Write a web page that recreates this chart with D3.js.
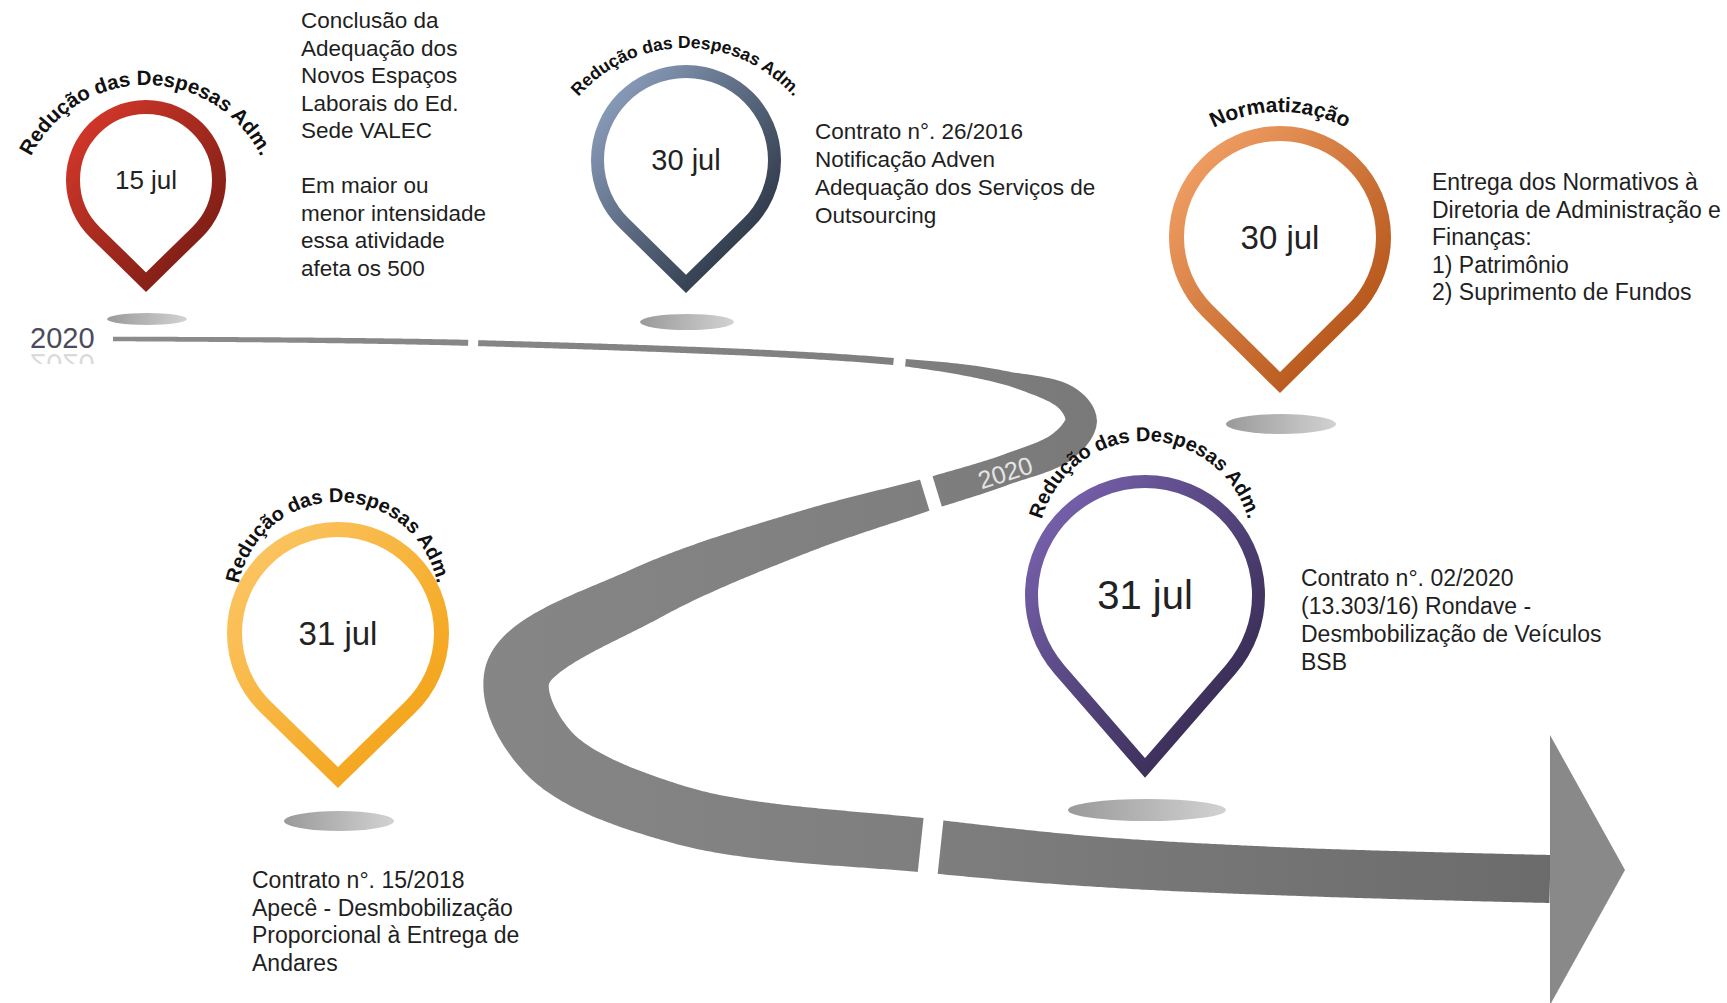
<!DOCTYPE html>
<html>
<head>
<meta charset="utf-8">
<script src="https://cdn.jsdelivr.net/npm/d3@7"></script>
<style>
  html, body { margin: 0; padding: 0; background: #fff; }
  svg { display: block; }
</style>
</head>
<body>
<div id="chart"></div>
<script>
// DATA
const milestoneDates = ["15 jul", "30 jul", "30 jul", "31 jul", "31 jul"];
const milestoneTitles = [
  "Redução das Despesas Adm.",
  "Redução das Despesas Adm.",
  "Normatização",
  "Redução das Despesas Adm.",
  "Redução das Despesas Adm."
];
const milestoneNotes = [
  ["Conclusão da", "Adequação dos", "Novos Espaços", "Laborais do Ed.", "Sede VALEC", "",
   "Em maior ou", "menor intensidade", "essa atividade", "afeta  os 500"],
  ["Contrato n°. 26/2016", "Notificação Adven", "Adequação dos Serviços de", "Outsourcing"],
  ["Entrega dos Normativos à", "Diretoria de Administração e", "Finanças:", "1) Patrimônio", "2) Suprimento de Fundos"],
  ["Contrato n°. 15/2018", "Apecê - Desmbobilização", "Proporcional à Entrega de", "Andares"],
  ["Contrato n°. 02/2020", "(13.303/16) Rondave -", "Desmbobilização de Veículos", "BSB"]
];
const yearLabel = "2020";

// LAYOUT
const W = 1727, H = 1003;
const pinLayout = [
  { cx: 146, cy: 180, r: 80, tip: 292, sw: 14, dateSize: 26, arcCy: 213, arcR: 128, arcSize: 20.5 },
  { cx: 686, cy: 160, r: 95, tip: 293, sw: 13, dateSize: 29, arcCy: 191, arcR: 143, arcSize: 17.5 },
  { cx: 1280, cy: 237, r: 111, tip: 393, sw: 15, dateSize: 33, arcCy: 257, arcR: 145, arcSize: 21 },
  { cx: 338, cy: 633, r: 111, tip: 788, sw: 15, dateSize: 33, arcCy: 603, arcR: 101, arcSize: 20 },
  { cx: 1145, cy: 595, r: 120, tip: 777, sw: 13, dateSize: 40, arcCy: 548, arcR: 107, arcSize: 20 }
];
const shadowLayout = [
  { cx: 147, cy: 319, rx: 40, ry: 6 },
  { cx: 687, cy: 322, rx: 47, ry: 8 },
  { cx: 1281, cy: 424, rx: 55, ry: 10 },
  { cx: 339, cy: 821, rx: 55, ry: 10 },
  { cx: 1147, cy: 810, rx: 79, ry: 11 }
];
const noteLayout = [
  { x: 301, y: 28, lh: 27.5, size: 22.5 },
  { x: 815, y: 139, lh: 28, size: 22.5 },
  { x: 1432, y: 190, lh: 27.5, size: 23 },
  { x: 252, y: 888, lh: 27.5, size: 23 },
  { x: 1301, y: 586, lh: 28, size: 23 }
];
const pinLight = ["#d9392b", "#93a7c6", "#f6a66c", "#fcc86a", "#7d66b6"];
const pinDark = ["#6f1a12", "#1b2431", "#a9470b", "#f29e0c", "#2a2140"];

// road centre line [x, y], its width and where the white cuts are
const roadPoints = [
  [113, 339], [474, 343], [898, 362], [1010, 379], [1068, 399], [1081, 421],
  [1063, 446], [1005, 470], [932, 493], [800, 533], [645, 594], [518, 673],
  [548, 752], [680, 815], [930, 846], [1100, 862], [1300, 872], [1550, 879]
];
const roadWidths = [4.5, 6, 7, 14, 26, 32, 32, 30, 32, 42, 56, 66, 62, 58, 54, 50, 48, 48];
const roadGaps = [1, 2, 8, 14];
const gapWidths = [10, 12, 13, 20];

// CHART SVG
const svg = d3.select("#chart").append("svg")
  .attr("width", W).attr("height", H)
  .attr("viewBox", `0 0 ${W} ${H}`);
const defs = svg.append("defs");

// GRADIENTS
pinLight.forEach((c, i) => {
  const g = defs.append("linearGradient").attr("id", `pinGrad${i}`)
    .attr("x1", 0).attr("y1", 0).attr("x2", 1).attr("y2", 1);
  g.append("stop").attr("offset", "0%").attr("stop-color", c);
  g.append("stop").attr("offset", "100%").attr("stop-color", pinDark[i]);
});
const shadowGrad = defs.append("linearGradient").attr("id", "shadowGrad");
shadowGrad.append("stop").attr("offset", "0%").attr("stop-color", "#9a9a9a");
shadowGrad.append("stop").attr("offset", "100%").attr("stop-color", "#d2d2d2");

const roadGrad = defs.append("linearGradient").attr("id", "roadGrad")
  .attr("gradientUnits", "userSpaceOnUse")
  .attr("x1", 100).attr("y1", 0).attr("x2", 1560).attr("y2", 0);
roadGrad.append("stop").attr("offset", "0%").attr("stop-color", "#8c8c8c");
roadGrad.append("stop").attr("offset", "55%").attr("stop-color", "#7f7f7f");
roadGrad.append("stop").attr("offset", "100%").attr("stop-color", "#6b6b6b");

// ROAD
const guide = svg.append("path")
  .attr("d", d3.line().curve(d3.curveCatmullRom.alpha(0.5))(roadPoints))
  .attr("fill", "none");
const total = guide.node().getTotalLength();
const N = 900;
const samples = d3.range(N + 1).map((i) => {
  const p = guide.node().getPointAtLength((total * i) / N);
  return [p.x, p.y, (total * i) / N];
});
const ctrlLen = roadPoints.map((p) => {
  let best = 0, bd = Infinity;
  samples.forEach((s) => {
    const d = (s[0] - p[0]) ** 2 + (s[1] - p[1]) ** 2;
    if (d < bd) { bd = d; best = s[2]; }
  });
  return best;
});
const widthScale = d3.scaleLinear().domain(ctrlLen).range(roadWidths);
const normalAt = (i) => {
  const a = samples[Math.max(0, i - 2)], b = samples[Math.min(N, i + 2)];
  const len = Math.hypot(b[0] - a[0], b[1] - a[1]) || 1;
  return [-(b[1] - a[1]) / len, (b[0] - a[0]) / len];
};
const leftSide = [], rightSide = [];
samples.forEach((s, i) => {
  const [nx, ny] = normalAt(i);
  const w = widthScale(s[2]) / 2;
  leftSide.push([s[0] + nx * w, s[1] + ny * w]);
  rightSide.push([s[0] - nx * w, s[1] - ny * w]);
});
svg.append("path")
  .attr("d", d3.line()(leftSide.concat(rightSide.reverse())) + "Z")
  .attr("fill", "url(#roadGrad)");

// white cuts across the road
roadGaps.forEach((g, k) => {
  const i = Math.round((ctrlLen[g] / total) * N);
  const s = samples[i];
  const [nx, ny] = normalAt(i);
  const w = widthScale(s[2]) / 2 + 4;
  svg.append("line")
    .attr("x1", s[0] - nx * w).attr("y1", s[1] - ny * w)
    .attr("x2", s[0] + nx * w).attr("y2", s[1] + ny * w)
    .attr("stroke", "#fff").attr("stroke-width", gapWidths[k]);
});

// ARROW HEAD
const last = roadPoints[roadPoints.length - 1];
svg.append("path")
  .attr("d", d3.line()([[last[0], 735], [1625, 870], [last[0], 1005]]) + "Z")
  .attr("fill", "#898989");

// YEAR LABELS
svg.append("text")
  .attr("x", 30).attr("y", 348)
  .attr("font-family", "Liberation Sans, Arial, sans-serif")
  .attr("font-size", 29).attr("fill", "#4b4b5c")
  .text(yearLabel);
defs.append("clipPath").attr("id", "reflClip")
  .append("rect").attr("x", 0).attr("y", 354).attr("width", 120).attr("height", 10);
svg.append("g").attr("clip-path", "url(#reflClip)")
  .append("text")
  .attr("transform", "translate(0, 702) scale(1,-1)")
  .attr("x", 30).attr("y", 348)
  .attr("font-family", "Liberation Sans, Arial, sans-serif")
  .attr("font-size", 29).attr("fill", "#4b4b5c").attr("opacity", 0.2)
  .text(yearLabel);
svg.append("text")
  .attr("transform", "translate(1008, 481) rotate(-18)")
  .attr("text-anchor", "middle")
  .attr("font-family", "Liberation Sans, Arial, sans-serif")
  .attr("font-size", 25).attr("fill", "#e4e4e4")
  .text(yearLabel);

// SHADOWS
svg.append("g").selectAll("ellipse")
  .data(shadowLayout)
  .join("ellipse")
  .attr("cx", (d) => d.cx).attr("cy", (d) => d.cy)
  .attr("rx", (d) => d.rx).attr("ry", (d) => d.ry)
  .attr("fill", "url(#shadowGrad)");

// PINS
const pinPath = (p) => {
  const rm = p.r - p.sw / 2;
  const d = p.tip - p.sw * 0.7 - p.cy;
  const a = Math.acos(rm / d);
  const tx = rm * Math.sin(a), ty = rm * Math.cos(a);
  const tipY = p.cy + d;
  return `M${p.cx},${tipY} L${p.cx + tx},${p.cy + ty} A${rm},${rm} 0 1 0 ${p.cx - tx},${p.cy + ty} Z`;
};
const pins = svg.append("g").selectAll("g")
  .data(milestoneDates)
  .join("g");
pins.append("path")
  .attr("d", (d, i) => pinPath(pinLayout[i]))
  .attr("fill", "#fff")
  .attr("stroke", (d, i) => `url(#pinGrad${i})`)
  .attr("stroke-width", (d, i) => pinLayout[i].sw)
  .attr("stroke-linejoin", "miter")
  .attr("stroke-miterlimit", 10);
pins.append("text")
  .attr("x", (d, i) => pinLayout[i].cx)
  .attr("y", (d, i) => pinLayout[i].cy)
  .attr("dy", "0.35em")
  .attr("text-anchor", "middle")
  .attr("font-family", "Liberation Sans, Arial, sans-serif")
  .attr("font-size", (d, i) => pinLayout[i].dateSize)
  .attr("fill", "#222")
  .text((d) => d);

// curved titles above the pins
milestoneTitles.forEach((t, i) => {
  const p = pinLayout[i];
  const a0 = (-115 * Math.PI) / 180, a1 = (115 * Math.PI) / 180;
  const x0 = p.cx + p.arcR * Math.sin(a0), y0 = p.arcCy - p.arcR * Math.cos(a0);
  const x1 = p.cx + p.arcR * Math.sin(a1), y1 = p.arcCy - p.arcR * Math.cos(a1);
  defs.append("path").attr("id", `arc${i}`)
    .attr("d", `M${x0},${y0} A${p.arcR},${p.arcR} 0 1 1 ${x1},${y1}`);
  svg.append("text")
    .attr("font-family", "Liberation Sans, Arial, sans-serif")
    .attr("font-weight", "bold")
    .attr("font-size", p.arcSize)
    .attr("fill", "#111")
    .append("textPath")
    .attr("href", `#arc${i}`)
    .attr("startOffset", "50%")
    .attr("text-anchor", "middle")
    .text(t);
});

// NOTES
milestoneNotes.forEach((lines, i) => {
  const n = noteLayout[i];
  svg.append("text")
    .attr("font-family", "Liberation Sans, Arial, sans-serif")
    .attr("font-size", n.size)
    .attr("fill", "#1f1f1f")
    .selectAll("tspan")
    .data(lines)
    .join("tspan")
    .attr("x", n.x)
    .attr("y", (d, j) => n.y + j * n.lh)
    .text((d) => d);
});
</script>
</body>
</html>
